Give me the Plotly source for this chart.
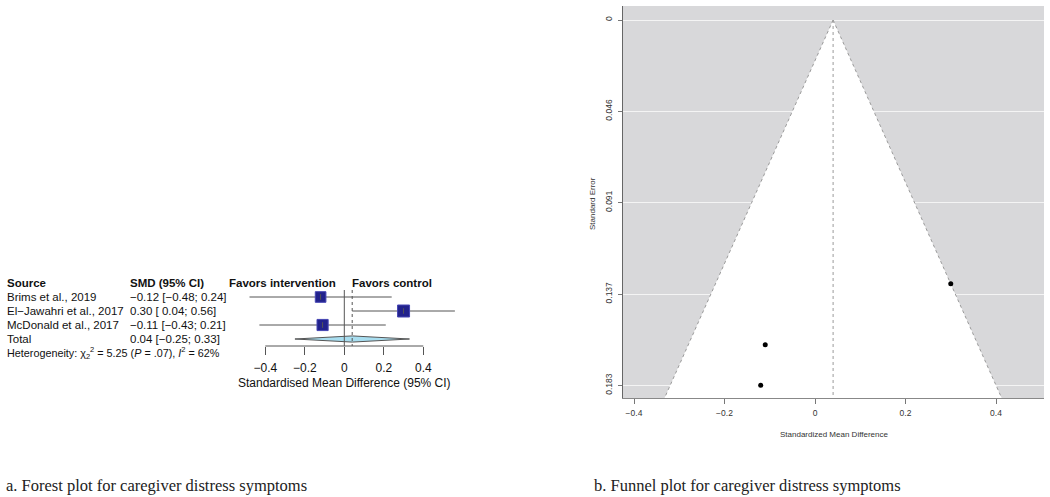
import plotly.graph_objects as go
import numpy as np

# ---------------- data ----------------
studies = ["Brims et al., 2019", "El\u2212Jawahri et al., 2017", "McDonald et al., 2017"]
smd = [-0.12, 0.30, -0.11]
ci_low = [-0.48, 0.04, -0.43]
ci_high = [0.24, 0.56, 0.21]
total_label = "Total"
total_smd = 0.04
total_low = -0.25
total_high = 0.33
heterogeneity = "Heterogeneity: \u03c7<sub>2</sub><sup>2</sup> = 5.25 (<i>P</i> = .07), <i>I</i><sup>2</sup> = 62%"
forest_ticks = [-0.4, -0.2, 0, 0.2, 0.4]
forest_ticktext = ["\u22120.4", "\u22120.2", "0", "0.2", "0.4"]
funnel_xticks = [-0.4, -0.2, 0, 0.2, 0.4]
funnel_xticktext = ["\u22120.4", "\u22120.2", "0", "0.2", "0.4"]
funnel_yticks = [0, 0.0459, 0.0918, 0.1378, 0.1837]
funnel_yticktext = ["0", "0.046", "0.091", "0.137", "0.183"]
captions = ["a. Forest plot for caregiver distress symptoms", "b. Funnel plot for caregiver distress symptoms"]

def fmt(v):
    s = f"{abs(v):.2f}"
    return ("\u2212" + s) if v < 0 else s

def fmt_ci(e, l, h):
    lo = fmt(l) if l < 0 else " " + fmt(l)
    return f"{fmt(e)} [{lo}; {fmt(h)}]"

se = [(h - l) / 3.92 for l, h in zip(ci_low, ci_high)]

W, H = 1050, 497
SANS = "Liberation Sans, Arial, Helvetica, sans-serif"
SERIF = "Liberation Serif, Times New Roman, serif"

def px_x(p):
    return p / W

def px_y(p):
    return 1 - p / H

# forest geometry
F_TOP, F_BOT = 276, 346
ROW_H = 14
def row_y(r):
    return px_y(F_TOP + (r + 0.5) * ROW_H)

fig = go.Figure()

# ---- forest plot traces ----
rows = list(range(1, len(studies) + 1))
for r, l, h in zip(rows, ci_low, ci_high):
    fig.add_trace(go.Scatter(x=[l, h], y=[r, r], mode="lines",
                             line=dict(color="#555555", width=1),
                             xaxis="x", yaxis="y", showlegend=False, hoverinfo="skip"))
# square sizes from random-effects weights
w_fixed = np.array([1 / s ** 2 for s in se])
Q = 5.25
C = w_fixed.sum() - (w_fixed ** 2).sum() / w_fixed.sum()
tau2 = max(0.0, (Q - (len(se) - 1)) / C)
w_re = np.array([1 / (s ** 2 + tau2) for s in se])
sizes = 12 * np.sqrt(w_re / w_re.max())
fig.add_trace(go.Scatter(x=smd, y=rows, mode="markers",
                         marker=dict(symbol="square", size=sizes, color="#22228c", opacity=1,
                                     line=dict(color="#4646b4", width=1)),
                         xaxis="x", yaxis="y", showlegend=False, hoverinfo="skip"))
fig.add_trace(go.Scatter(x=smd, y=rows, mode="markers",
                         marker=dict(symbol="line-ns", size=4, opacity=1,
                                     line=dict(color="#555555", width=1)),
                         xaxis="x", yaxis="y", showlegend=False, hoverinfo="skip"))
# diamond
tr = len(studies) + 1
hh = 0.22
fig.add_trace(go.Scatter(x=[total_low, total_smd, total_high, total_smd, total_low],
                         y=[tr, tr - hh, tr, tr + hh, tr], mode="lines", fill="toself",
                         fillcolor="#a8def0", line=dict(color="#555555", width=1),
                         xaxis="x", yaxis="y", showlegend=False, hoverinfo="skip"))

# ---- funnel plot traces ----
y_bottom = 0.19005
fx = [total_smd, total_smd - 1.96 * y_bottom, total_smd + 1.96 * y_bottom, total_smd]
fy = [0, y_bottom, y_bottom, 0]
fig.add_trace(go.Scatter(x=fx, y=fy, mode="lines", fill="toself", fillcolor="white",
                         line=dict(width=0), xaxis="x2", yaxis="y2",
                         showlegend=False, hoverinfo="skip"))
for sgn in (-1, 1):
    fig.add_trace(go.Scatter(x=[total_smd, total_smd + sgn * 1.96 * y_bottom], y=[0, y_bottom],
                             mode="lines", line=dict(color="#9a9a9a", width=1, dash="dot"),
                             xaxis="x2", yaxis="y2", showlegend=False, hoverinfo="skip"))
fig.add_trace(go.Scatter(x=[total_smd, total_smd], y=[0, y_bottom], mode="lines",
                         line=dict(color="#9a9a9a", width=1, dash="dot"),
                         xaxis="x2", yaxis="y2", showlegend=False, hoverinfo="skip"))
fig.add_trace(go.Scatter(x=smd, y=se, mode="markers",
                         marker=dict(color="black", size=5),
                         xaxis="x2", yaxis="y2", showlegend=False, hoverinfo="skip"))

# ---- shapes ----
shapes = [
    dict(type="rect", xref="x2 domain", yref="y2 domain", x0=0, x1=1, y0=0, y1=1,
         fillcolor="#d8d8da", line=dict(width=0), layer="below"),
    dict(type="line", xref="x", yref="y domain", x0=forest_ticks[0], x1=forest_ticks[-1],
         y0=0, y1=0, line=dict(color="#555555", width=1)),
    dict(type="line", xref="x", yref="y", x0=0, x1=0, y0=0.5, y1=4.5,
         line=dict(color="#555555", width=1)),
    dict(type="line", xref="x", yref="y", x0=total_smd, x1=total_smd, y0=0.5, y1=4.5,
         line=dict(color="#555555", width=1, dash="dot")),
]

# ---- annotations ----
ann = []
def text(x, y, s, size=11.5, bold=False, anchor="left", font=SANS, color="#111111", **kw):
    ann.append(dict(x=x, y=y, xref="paper", yref="paper", text=(f"<b>{s}</b>" if bold else s),
                    showarrow=False, xanchor=anchor, yanchor="middle",
                    font=dict(family=font, size=size, color=color), **kw))

text(px_x(5), row_y(0), "Source", bold=True)
text(px_x(128), row_y(0), "SMD (95% CI)", bold=True)
text(px_x(338), row_y(0), "Favors intervention", bold=True, anchor="right")
text(px_x(350), row_y(0), "Favors control", bold=True)
for i, (s, e, l, h) in enumerate(zip(studies, smd, ci_low, ci_high)):
    text(px_x(5), row_y(i + 1), s)
    text(px_x(128), row_y(i + 1), fmt_ci(e, l, h))
text(px_x(5), row_y(tr), total_label)
text(px_x(128), row_y(tr), fmt_ci(total_smd, total_low, total_high))
text(px_x(5), row_y(tr + 1), heterogeneity, size=10.8)
ann.append(dict(x=0, y=px_y(383), xref="x", yref="paper", text="Standardised Mean Difference (95% CI)",
                showarrow=False, xanchor="center", yanchor="middle",
                font=dict(family=SANS, size=12, color="#111111")))
text(px_x(592), px_y(204), "Standard Error", size=8, anchor="center", color="#333333", textangle=-90)
ann.append(dict(x=0.5, y=px_y(434), xref="x2 domain", yref="paper", text="Standardized Mean Difference",
                showarrow=False, xanchor="center", yanchor="middle",
                font=dict(family=SANS, size=8, color="#333333")))
text(px_x(4), px_y(485), captions[0], size=16.5, font=SERIF, color="#222222")
text(px_x(592), px_y(485), captions[1], size=16.5, font=SERIF, color="#222222")

# ---- axes ----
fx0, fx1 = 240, 470
zero_px, per_unit = 344.3, 197.5
fig.update_layout(
    width=W, height=H, margin=dict(l=0, r=0, t=0, b=0),
    paper_bgcolor="white", plot_bgcolor="rgba(0,0,0,0)",
    xaxis=dict(domain=[px_x(fx0), px_x(fx1)],
               range=[(fx0 - zero_px) / per_unit, (fx1 - zero_px) / per_unit],
               tickvals=forest_ticks, ticktext=forest_ticktext, ticks="outside", ticklen=8,
               tickcolor="#555555", showline=False, showgrid=False, zeroline=False,
               tickfont=dict(family=SANS, size=12, color="#111111"), anchor="y",
               ticklabelstandoff=3),
    yaxis=dict(domain=[px_y(F_BOT), px_y(F_TOP)], range=[4.5, -0.5], visible=False,
               anchor="x"),
    xaxis2=dict(domain=[px_x(623), px_x(1044)],
                range=[(623 - 815) / 452.5, (1044 - 815) / 452.5],
                tickvals=funnel_xticks, ticktext=funnel_xticktext, ticks="outside", ticklen=5,
                tickcolor="#777777", showline=True, linecolor="#888888", linewidth=1,
                showgrid=False, zeroline=False, anchor="y2", ticklabelstandoff=2,
                tickfont=dict(family=SANS, size=8.5, color="#333333")),
    yaxis2=dict(domain=[px_y(398), px_y(6)], range=[0.19005, -0.00704],
                tickvals=funnel_yticks, ticktext=funnel_yticktext, ticks="outside", ticklen=4,
                tickcolor="#777777", showline=True, linecolor="#666666", linewidth=1,
                showgrid=True, gridcolor="#f4f4f4", gridwidth=1, zeroline=False,
                tickangle=-90, anchor="x2", ticklabelstandoff=3,
                tickfont=dict(family=SANS, size=8.5, color="#333333")),
    shapes=shapes, annotations=ann,
)

fig.write_html("out.html", config={"displayModeBar": False},
               post_script="document.body.style.margin='0px';")
